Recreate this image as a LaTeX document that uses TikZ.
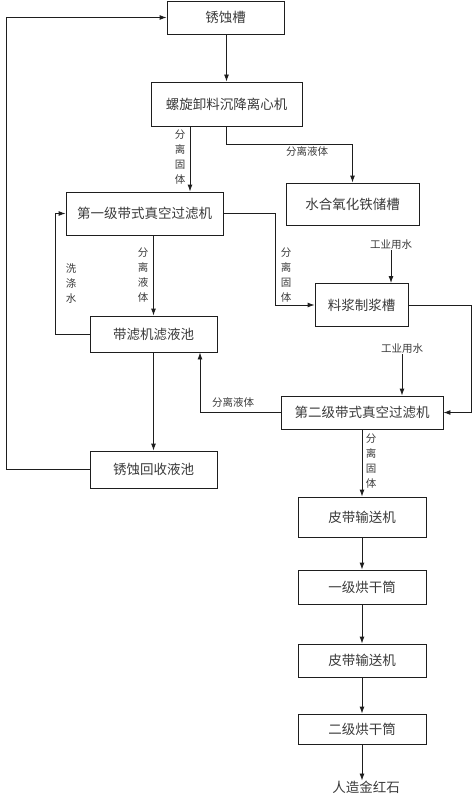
\documentclass[tikz,border=0pt]{standalone}
\usepackage{fontspec}
\setmainfont{Noto Sans CJK SC}
\usepackage{tikz}
\usetikzlibrary{arrows.meta,positioning,calc}
\definecolor{linegray}{HTML}{1E1E1E}
\definecolor{textgray}{HTML}{3A3A3A}

\begin{document}
\begin{tikzpicture}[
    x=1pt, y=-1pt,
    unit/.style={draw=linegray, line width=0.9pt, inner sep=0pt, align=center,
                 font=\fontsize{13.5}{15}\selectfont, text=textgray},
    tag/.style={inner sep=0pt, align=center, font=\fontsize{10.5}{15}\selectfont, text=textgray},
    flow/.style={-{Latex[length=7pt,width=5pt]}, line width=0.9pt, color=linegray}
]
\useasboundingbox (0,0) rectangle (474,797);

% --- upper part ---
\node[unit, minimum width=117pt, minimum height=33pt] (rust) at (225.5, 17.5) {锈蚀槽};
\node[unit, minimum width=151pt, minimum height=44pt] (cent) at (226.5, 104) {螺旋卸料沉降离心机};
\node[unit, minimum width=157pt, minimum height=43pt] (filt1) at (144.5, 213.5) {第一级带式真空过滤机};
\node[unit, minimum width=133pt, minimum height=42pt] (feooh) at (352.5, 204) {水合氧化铁储槽};
\node[unit, minimum width=93pt, minimum height=43pt] (slurry) at (361.5, 305) {料浆制浆槽};
\node[unit, minimum width=127pt, minimum height=36pt] (pool) at (153.5, 334) {带滤机滤液池};
\node[unit, minimum width=127pt, minimum height=37pt] (recov) at (153.5, 469.5) {锈蚀回收液池};
\node[unit, minimum width=162pt, minimum height=33pt] (filt2) at (362, 412.5) {第二级带式真空过滤机};

% --- lower chain ---
\node[unit, minimum width=128pt, minimum height=40pt] (belt1) at (362, 517) {皮带输送机};
\node[unit, minimum width=128pt, minimum height=34pt] (dry1) at (362, 587) {一级烘干筒};
\node[unit, minimum width=128pt, minimum height=33pt] (belt2) at (362, 660.5) {皮带输送机};
\node[unit, minimum width=128pt, minimum height=30pt] (dry2) at (362, 729) {二级烘干筒};
\node[tag, font=\fontsize{13.5}{15}\selectfont] (prod) at (366, 787) {人造金红石};

% --- inputs ---
\node[tag] (water1) at (391, 245) {工业用水};
\node[tag] (water2) at (402, 349) {工业用水};

% --- labels ---
\node[tag] (lab1) at (180, 157) {分\\离\\固\\体};
\node[tag] (lab2) at (307, 151) {分离液体};
\node[tag] (lab3) at (143, 275) {分\\离\\液\\体};
\node[tag] (lab4) at (71, 284) {洗\\涤\\水};
\node[tag] (lab5) at (286, 275) {分\\离\\固\\体};
\node[tag] (lab6) at (233, 402) {分离液体};
\node[tag] (lab7) at (371, 461) {分\\离\\固\\体};

% --- connections: top ---
\draw[flow] (rust.south -| cent.north) -- (cent.north);
\draw[flow] (cent.south -| 190,0) -- (filt1.north -| 190,0);
\draw[flow] (cent.south) -- ++(0,18) -| (feooh.north);

% --- connections: first filter ---
\draw[flow] (filt1.east) -- (filt1.east -| 275,0) |- (slurry.west);
\draw[flow] (filt1.south -| pool.north) -- (pool.north);
\draw[flow] (pool.west) -- ++(-34,0) |- (filt1.west);
\draw[flow] (pool.south) -- (recov.north);
\draw[flow] (recov.west) -- (recov.west -| 6,0) |- (rust.west);

% --- connections: second filter ---
\draw[flow] (water1.south) -- (water1.south |- slurry.north);
\draw[flow] (slurry.east) -- (slurry.east -| 471,0) |- (filt2.east);
\draw[flow] (water2.south) -- (water2.south |- filt2.north);
\draw[flow] (filt2.west) -- (filt2.west -| 200,0) -- (pool.south -| 200,0);
\draw[flow] (filt2.south) -- (belt1.north);

% --- connections: drying ---
\draw[flow] (belt1.south) -- (dry1.north);
\draw[flow] (dry1.south) -- (belt2.north);
\draw[flow] (belt2.south) -- (dry2.north);
\draw[flow] (dry2.south) -- (dry2.south |- prod.north);

\end{tikzpicture}
\end{document}
